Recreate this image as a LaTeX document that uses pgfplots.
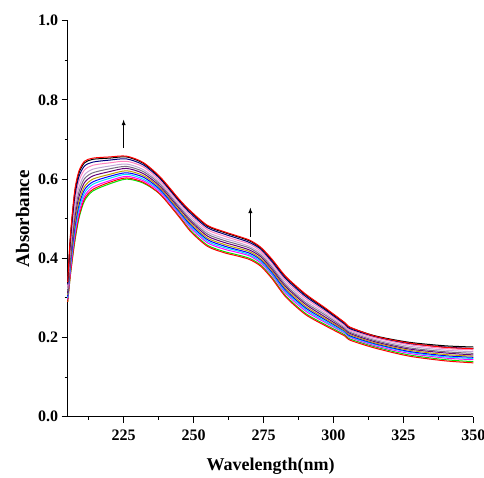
\documentclass[border=0pt]{standalone}
\usepackage{pgfplots}
\pgfplotsset{compat=1.18}
\usepackage{pgfplotstable}
\usepackage{fontspec}
\setmainfont{Liberation Serif}

\definecolor{ogreen}{RGB}{0,230,0}
\definecolor{ored}{RGB}{255,0,0}
\definecolor{omag}{RGB}{255,0,255}
\definecolor{ocyan}{RGB}{0,220,255}
\definecolor{oblue}{RGB}{0,0,255}
\definecolor{oolive}{RGB}{190,160,0}
\definecolor{opurple}{RGB}{100,0,120}
\definecolor{oviolet}{RGB}{120,110,130}
\definecolor{olav}{RGB}{195,165,215}
\definecolor{opink}{RGB}{255,130,190}
\definecolor{onavy}{RGB}{0,0,128}

% absorbance spectra, lowest to highest
\pgfplotstableread{
x     grn  rdb  mag  cyn  blu  olv  pur  vio  lav  pnk  nav  blk  red
205   .290 .290 .296 .300 .304 .308 .313 .318 .323 .329 .334 .338 .340
206   .360 .360 .372 .380 .388 .396 .406 .416 .426 .438 .448 .456 .460
207.5 .440 .445 .456 .466 .476 .487 .500 .513 .526 .541 .554 .565 .570
209   .500 .505 .514 .524 .534 .543 .555 .567 .579 .594 .606 .615 .620
211   .545 .550 .557 .565 .573 .581 .591 .601 .611 .623 .633 .641 .645
214   .570 .574 .580 .587 .593 .600 .608 .616 .625 .635 .643 .650 .653
220   .588 .592 .596 .602 .607 .612 .619 .626 .633 .641 .648 .653 .656
226   .600 .603 .607 .612 .616 .621 .627 .632 .638 .645 .651 .656 .658
232   .590 .592 .596 .600 .605 .609 .614 .619 .624 .631 .636 .640 .642
238   .562 .562 .567 .571 .574 .578 .582 .587 .591 .596 .601 .604 .606
245   .505 .503 .510 .514 .517 .520 .525 .529 .533 .539 .543 .546 .548
249   .470 .467 .476 .480 .484 .488 .493 .497 .502 .508 .513 .517 .519
255   .433 .430 .439 .443 .447 .451 .456 .461 .466 .472 .477 .481 .483
261   .417 .414 .423 .427 .431 .435 .440 .445 .450 .456 .461 .465 .467
265   .410 .407 .416 .420 .423 .427 .432 .437 .442 .447 .452 .456 .458
270   .400 .397 .406 .409 .413 .417 .421 .426 .430 .436 .440 .444 .446
274   .383 .380 .388 .392 .396 .399 .404 .408 .413 .418 .423 .426 .428
278   .352 .349 .358 .361 .365 .369 .373 .378 .382 .388 .392 .396 .398
283   .305 .302 .311 .315 .319 .323 .328 .332 .337 .343 .348 .352 .354
290   .261 .258 .267 .271 .275 .279 .284 .288 .293 .299 .304 .308 .310
297   .233 .230 .238 .241 .245 .248 .252 .257 .261 .266 .270 .273 .275
304   .207 .204 .211 .213 .216 .218 .221 .224 .227 .231 .234 .237 .238
306   .196 .193 .200 .202 .204 .207 .210 .213 .216 .219 .222 .225 .226
315   .176 .173 .179 .182 .184 .186 .189 .192 .195 .199 .202 .204 .203
327   .156 .153 .160 .163 .165 .168 .171 .174 .178 .182 .185 .188 .186
340   .144 .141 .148 .151 .154 .157 .161 .164 .168 .172 .176 .179 .175
350   .139 .136 .144 .147 .150 .153 .156 .160 .164 .169 .172 .176 .172
}\spectra

\begin{document}
\begin{tikzpicture}
\begin{axis}[
  name=main,
  scale only axis,
  width=405.6pt,
  height=396pt,
  xmin=205, xmax=350,
  ymin=0, ymax=1.0,
  axis lines*=left,
  axis line style={line width=1.2pt},
  tick align=outside,
  major tick length=6pt,
  minor tick length=3pt,
  every tick/.style={black, line width=1pt},
  xtick={225,250,275,300,325,350},
  minor xtick={212.5,237.5,262.5,287.5,312.5,337.5},
  ytick={0,0.2,0.4,0.6,0.8,1.0},
  minor ytick={0.1,0.3,0.5,0.7,0.9},
  yticklabel style={/pgf/number format/fixed,/pgf/number format/precision=1,/pgf/number format/fixed zerofill},
  /pgf/number format/assume math mode=true,
  tick label style={font=\fontsize{16}{16}\selectfont\bfseries},
  xticklabel style={yshift=-4pt},
  xlabel={Wavelength(nm)},
  ylabel={Absorbance},
  xlabel style={font=\fontsize{18}{18}\selectfont\bfseries, yshift=-10pt},
  ylabel style={font=\fontsize{19}{19}\selectfont\bfseries, yshift=2pt},
  every axis plot/.append style={line width=1pt, smooth, tension=0.45},
  clip=false,
]
\addplot[ogreen] table[x=x,y=grn] {\spectra};
\addplot[ored] table[x=x,y=rdb] {\spectra};
\addplot[omag] table[x=x,y=mag] {\spectra};
\addplot[ocyan] table[x=x,y=cyn] {\spectra};
\addplot[oblue] table[x=x,y=blu] {\spectra};
\addplot[oolive] table[x=x,y=olv] {\spectra};
\addplot[opurple] table[x=x,y=pur] {\spectra};
\addplot[oviolet] table[x=x,y=vio] {\spectra};
\addplot[olav] table[x=x,y=lav] {\spectra};
\addplot[opink] table[x=x,y=pnk] {\spectra};
\addplot[onavy] table[x=x,y=nav] {\spectra};
\addplot[black] table[x=x,y=blk] {\spectra};
\addplot[ored] table[x=x,y=red] {\spectra};
\draw[-latex, line width=0.9pt] (axis cs:225,0.678) -- (axis cs:225,0.75);
\draw[-latex, line width=0.9pt] (axis cs:270.3,0.455) -- (axis cs:270.3,0.528);
\end{axis}
\pgfresetboundingbox
\path[use as bounding box] ([xshift=-67.7pt,yshift=20.7pt]main.north west) rectangle ([xshift=10.7pt,yshift=-60.3pt]main.south east);
\end{tikzpicture}
\end{document}
